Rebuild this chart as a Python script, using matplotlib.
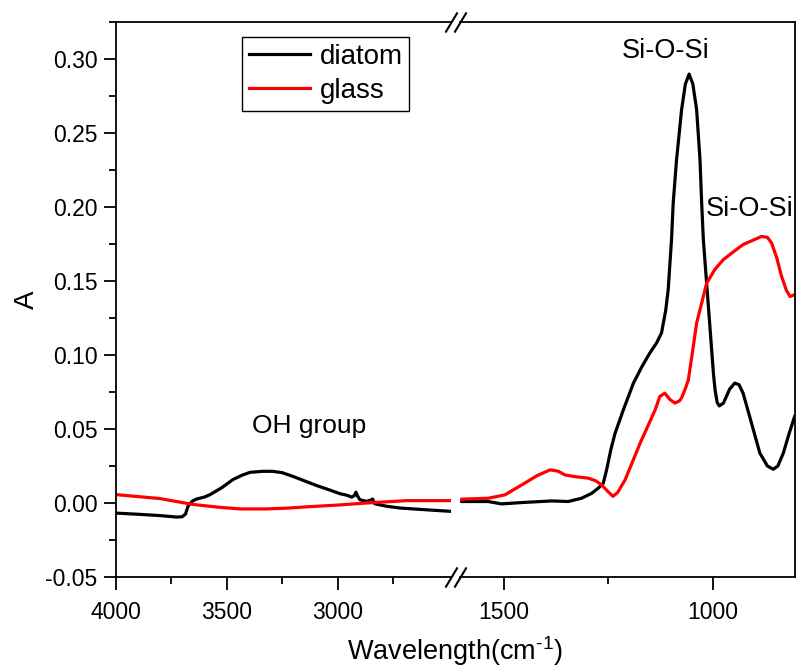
import matplotlib
matplotlib.use("Agg")
import matplotlib.pyplot as plt
from matplotlib.ticker import MultipleLocator, FixedLocator

plt.rcParams["font.family"] = ["Liberation Sans", "DejaVu Sans"]

# ---- data (wavenumber cm-1, absorbance) ----
# left segment (4000 - 2490)
diatom_wn_hi = [4000, 3900, 3800, 3725, 3700, 3685, 3674, 3655, 3635, 3600, 3575,
                3520, 3472, 3430, 3395, 3340, 3292, 3250, 3202, 3150, 3095, 3040,
                2990, 2960, 2937, 2925, 2918, 2910, 2900, 2870, 2850, 2843, 2833,
                2780, 2720, 2600, 2495]
diatom_a_hi = [-0.0068, -0.0076, -0.0085, -0.0095, -0.0093, -0.0075, -0.0023, 0.0012,
               0.0027, 0.0040, 0.0056, 0.0105, 0.0158, 0.0188, 0.0207, 0.0214, 0.0214,
               0.0205, 0.0180, 0.0150, 0.0118, 0.0090, 0.0063, 0.0053, 0.0040, 0.0050,
               0.0073, 0.0045, 0.0022, 0.0011, 0.0020, 0.0027, -0.0005, -0.0022,
               -0.0034, -0.0046, -0.0056]
glass_wn_hi = [4000, 3800, 3650, 3540, 3440, 3320, 3230, 3140, 3000, 2870, 2690, 2495]
glass_a_hi = [0.0057, 0.0030, -0.0010, -0.0028, -0.0040, -0.0040, -0.0035, -0.0026,
              -0.0014, 0.0000, 0.0016, 0.0016]

# right segment (1605 - 805)
diatom_wn_lo = [1600, 1537, 1505, 1457, 1385, 1346, 1314, 1290, 1274, 1262, 1254, 1244,
                1234, 1214, 1190, 1170, 1151, 1135, 1123, 1113, 1107, 1099, 1095, 1087,
                1075, 1066, 1057, 1048, 1039, 1031, 1027, 1023, 1011, 999, 995, 990, 985,
                975, 960, 948, 938, 928, 908, 888, 870, 856, 845, 832, 818, 805]
diatom_a_lo = [0.0010, 0.0010, -0.0006, 0.0003, 0.0014, 0.0010, 0.0032, 0.0065, 0.0100,
               0.0134, 0.0225, 0.0360, 0.0470, 0.0630, 0.0810, 0.0920, 0.1013, 0.1080,
               0.1148, 0.1300, 0.1440, 0.1780, 0.2027, 0.2320, 0.2656, 0.2830, 0.2898,
               0.2830, 0.2656, 0.2320, 0.2027, 0.1780, 0.1330, 0.0878, 0.0765, 0.0680,
               0.0656, 0.0675, 0.0770, 0.0810, 0.0800, 0.0742, 0.0540, 0.0337, 0.0250,
               0.0228, 0.0250, 0.0337, 0.0470, 0.0584]
glass_wn_lo = [1600, 1537, 1497, 1457, 1420, 1389, 1370, 1354, 1330, 1298, 1280, 1266,
               1250, 1239, 1228, 1210, 1174, 1138, 1127, 1115, 1103, 1091, 1080, 1075,
               1067, 1059, 1050, 1039, 1015, 995, 975, 950, 928, 905, 884, 870, 860,
               848, 836, 825, 816, 805]
glass_a_lo = [0.0026, 0.0032, 0.0055, 0.0122, 0.0185, 0.0224, 0.0215, 0.0190, 0.0178,
              0.0168, 0.0150, 0.0122, 0.0075, 0.0045, 0.0070, 0.0156, 0.0404, 0.0630,
              0.0720, 0.0742, 0.0700, 0.0675, 0.0690, 0.0710, 0.0765, 0.0830, 0.1000,
              0.1216, 0.1486, 0.1580, 0.1645, 0.1700, 0.1746, 0.1775, 0.1801, 0.1795,
              0.1757, 0.1660, 0.1530, 0.1440, 0.1395, 0.1408]

ylim = (-0.05, 0.325)
xlim_hi = (4000, 2490)
xlim_lo = (1605, 805)

W, H = 797, 668
fig = plt.figure(figsize=(W / 100, H / 100), dpi=100)
ax1 = fig.add_axes([115.5 / W, 91 / H, (451 - 115.5) / W, 555 / H])
ax2 = fig.add_axes([459.7 / W, 91 / H, (794.6 - 459.7) / W, 555 / H])

lw = 2.3
ax1.plot(diatom_wn_hi, diatom_a_hi, color="black", lw=lw, label="diatom")
ax1.plot(glass_wn_hi, glass_a_hi, color="red", lw=lw, label="glass")
ax2.plot(diatom_wn_lo, diatom_a_lo, color="black", lw=lw)
ax2.plot(glass_wn_lo, glass_a_lo, color="red", lw=lw)

for ax, xl in ((ax1, xlim_hi), (ax2, xlim_lo)):
    ax.set_xlim(*xl)
    ax.set_ylim(*ylim)
    for s in ax.spines.values():
        s.set_linewidth(1.3)
    ax.tick_params(which="both", direction="out", labelsize=16.5, width=1.3, top=False)
    ax.tick_params(which="major", length=9, pad=8)
    ax.tick_params(which="minor", length=5)

ax1.xaxis.set_major_locator(FixedLocator([4000, 3500, 3000]))
ax1.xaxis.set_minor_locator(FixedLocator([3750, 3250, 2750]))
ax2.xaxis.set_major_locator(FixedLocator([1500, 1000]))
ax2.xaxis.set_minor_locator(FixedLocator([1250]))

ax1.yaxis.set_major_locator(MultipleLocator(0.05))
ax1.yaxis.set_minor_locator(MultipleLocator(0.025))
ax1.yaxis.set_major_formatter(lambda v, p: f"{v:.2f}".replace("\u2212", "-"))
ax1.tick_params(axis="y", pad=4)
ax1.spines["right"].set_visible(False)
ax2.spines["left"].set_visible(False)
ax2.yaxis.set_visible(False)

# break marks
brk = dict(marker=[(-0.6, -1), (0.6, 1)], markersize=14.5, linestyle="none",
           color="k", mec="k", mew=1.5, clip_on=False)
ax1.plot([1, 1], [0, 1], transform=ax1.transAxes, **brk)
ax2.plot([0, 0], [0, 1], transform=ax2.transAxes, **brk)

ax1.set_ylabel("A", fontsize=20)
ax1.yaxis.set_label_coords(-0.225, 0.5)
fig.text(455 / W, 8 / H, "Wavelength(cm$\\mathregular{^{\u20101}}$)",
         ha="center", va="baseline", fontsize=19.5)

ax1.text(3127, 0.0472, "OH group", ha="center", va="baseline", fontsize=19)
ax2.text(1112, 0.3007, "Si-O-Si", ha="center", va="baseline", fontsize=19.5)
ax2.text(912, 0.1936, "Si-O-Si", ha="center", va="baseline", fontsize=19.5)

leg = ax1.legend(loc="upper left", bbox_to_anchor=(0.376, 0.9735), fontsize=20,
                 frameon=True, fancybox=False, edgecolor="black", framealpha=1,
                 handlelength=2.2, handletextpad=0.35, labelspacing=0.3,
                 borderpad=0.25, borderaxespad=0)
leg.get_frame().set_linewidth(1.0)

fig.savefig("out.png", dpi=100)
